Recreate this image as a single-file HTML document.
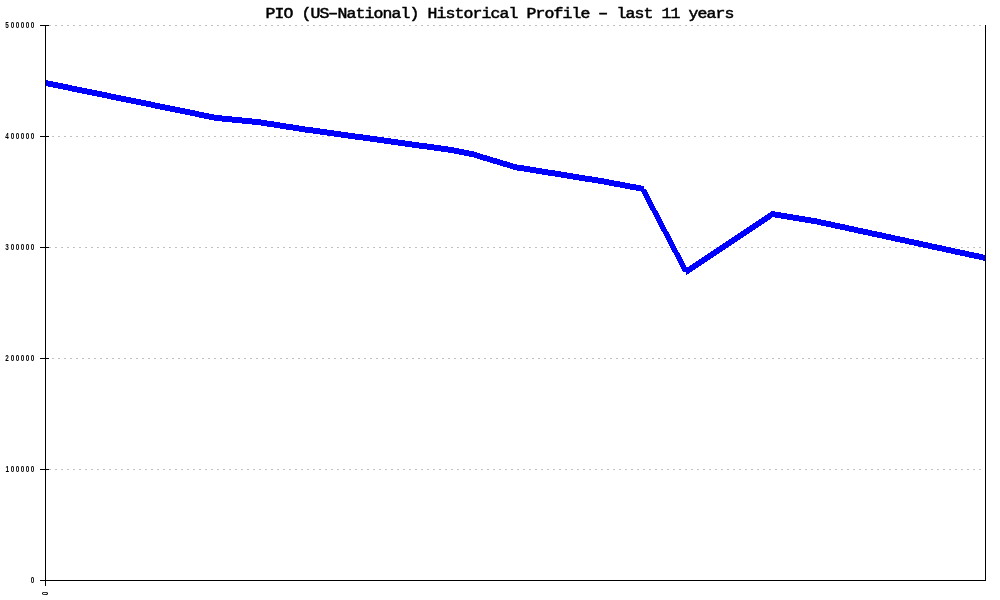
<!DOCTYPE html>
<html><head><meta charset="utf-8"><title>PIO (US-National) Historical Profile</title>
<style>
html,body{margin:0;padding:0;background:#fff;}
body{width:1000px;height:600px;overflow:hidden;}
svg{display:block;}
text{fill:#000;}
.t{font-family:"Liberation Mono","DejaVu Sans Mono",monospace;font-size:15px;stroke:#000;stroke-width:0.5px;}
.s{font-family:"Liberation Sans","DejaVu Sans",sans-serif;font-size:8.5px;font-weight:bold;}
</style></head><body>
<svg width="1000" height="600" viewBox="0 0 1000 600" shape-rendering="crispEdges">
<rect width="1000" height="600" fill="#fff"/>
<line x1="49" y1="25.5" x2="985" y2="25.5" stroke="#c0c0c0" stroke-width="1" stroke-dasharray="2 4"/><line x1="52" y1="136.5" x2="985" y2="136.5" stroke="#c0c0c0" stroke-width="1" stroke-dasharray="2 4"/><line x1="49" y1="247.5" x2="985" y2="247.5" stroke="#c0c0c0" stroke-width="1" stroke-dasharray="2 4"/><line x1="52" y1="358.5" x2="985" y2="358.5" stroke="#c0c0c0" stroke-width="1" stroke-dasharray="2 4"/><line x1="49" y1="469.5" x2="985" y2="469.5" stroke="#c0c0c0" stroke-width="1" stroke-dasharray="2 4"/>
<g fill="#0000ff"><polygon points="45.02,79.90 216.98,115.10 216.98,121.10 45.02,85.90"/><polygon points="216.02,114.95 259.98,119.29 259.98,125.29 216.02,120.95"/><polygon points="259.02,119.19 301.98,126.01 301.98,132.01 259.02,125.19"/><polygon points="301.02,125.88 387.98,138.07 387.98,144.07 301.02,131.88"/><polygon points="387.02,137.93 451.98,147.08 451.98,153.08 387.02,143.93"/><polygon points="451.02,146.92 472.98,151.34 472.98,157.34 451.02,152.92"/><polygon points="472.02,151.06 515.98,164.35 515.98,170.35 472.02,157.06"/><polygon points="515.02,164.12 600.98,178.00 600.98,184.00 515.02,170.12"/><polygon points="600.02,177.82 643.98,186.09 643.98,192.09 600.02,183.82"/><polygon points="639.75,189.02 645.75,189.02 689.25,271.98 683.25,271.98"/><polygon points="686.02,268.32 771.98,210.95 771.98,217.95 686.02,275.32"/><polygon points="771.02,210.86 814.98,218.08 814.98,224.08 771.02,216.86"/><polygon points="814.02,217.90 985.98,255.10 985.98,261.10 814.02,223.90"/></g>
<rect x="45" y="25" width="1" height="561" fill="#000"/>
<rect x="985" y="25" width="1" height="556" fill="#000"/>
<rect x="40" y="580" width="946" height="1" fill="#000"/>
<rect x="40" y="25" width="9" height="1" fill="#000"/><rect x="40" y="136" width="9" height="1" fill="#000"/><rect x="40" y="247" width="9" height="1" fill="#000"/><rect x="40" y="358" width="9" height="1" fill="#000"/><rect x="40" y="469" width="9" height="1" fill="#000"/>
<g transform="translate(0,18) scale(1.1,1)"><text class="t" y="0"><tspan x="241.273 249.455 257.636 265.818 274.000 282.182 290.364">PIO (US</tspan><tspan x="295.955" textLength="13.909" lengthAdjust="spacingAndGlyphs">-</tspan><tspan x="306.727 314.909 323.091 331.273 339.455 347.636 355.818 364.000 372.182 380.364 388.545 396.727 404.909 413.091 421.273 429.455 437.636 445.818 454.000 462.182 470.364 478.545 486.727 494.909 503.091 511.273 519.455 527.636 535.818">National) Historical Profile </tspan><tspan x="541.409" textLength="13.909" lengthAdjust="spacingAndGlyphs">-</tspan><tspan x="552.182 560.364 568.545 576.727 584.909 593.091 601.273 609.455 617.636 625.818 634.000 642.182 650.364 658.545"> last 11 years</tspan></text></g>
<g transform="translate(0,28) scale(0.75,1)"><text class="s" y="0" x="6.867 14.307 20.973 27.640 34.307 40.973">500000</text></g><g transform="translate(0,139) scale(0.75,1)"><text class="s" y="0" x="6.867 14.307 20.973 27.640 34.307 40.973">400000</text></g><g transform="translate(0,250) scale(0.75,1)"><text class="s" y="0" x="6.867 14.307 20.973 27.640 34.307 40.973">300000</text></g><g transform="translate(0,361) scale(0.75,1)"><text class="s" y="0" x="6.867 14.307 20.973 27.640 34.307 40.973">200000</text></g><g transform="translate(0,472) scale(0.75,1)"><text class="s" y="0" x="7.400 14.307 20.973 27.640 34.307 40.973">100000</text></g><g transform="translate(0,583) scale(0.75,1)"><text class="s" y="0" x="40.973">0</text></g>
<g transform="translate(48,595.2) rotate(-90) scale(0.75,1)"><text class="s" x="0" y="0">0</text></g>
</svg>
</body></html>
